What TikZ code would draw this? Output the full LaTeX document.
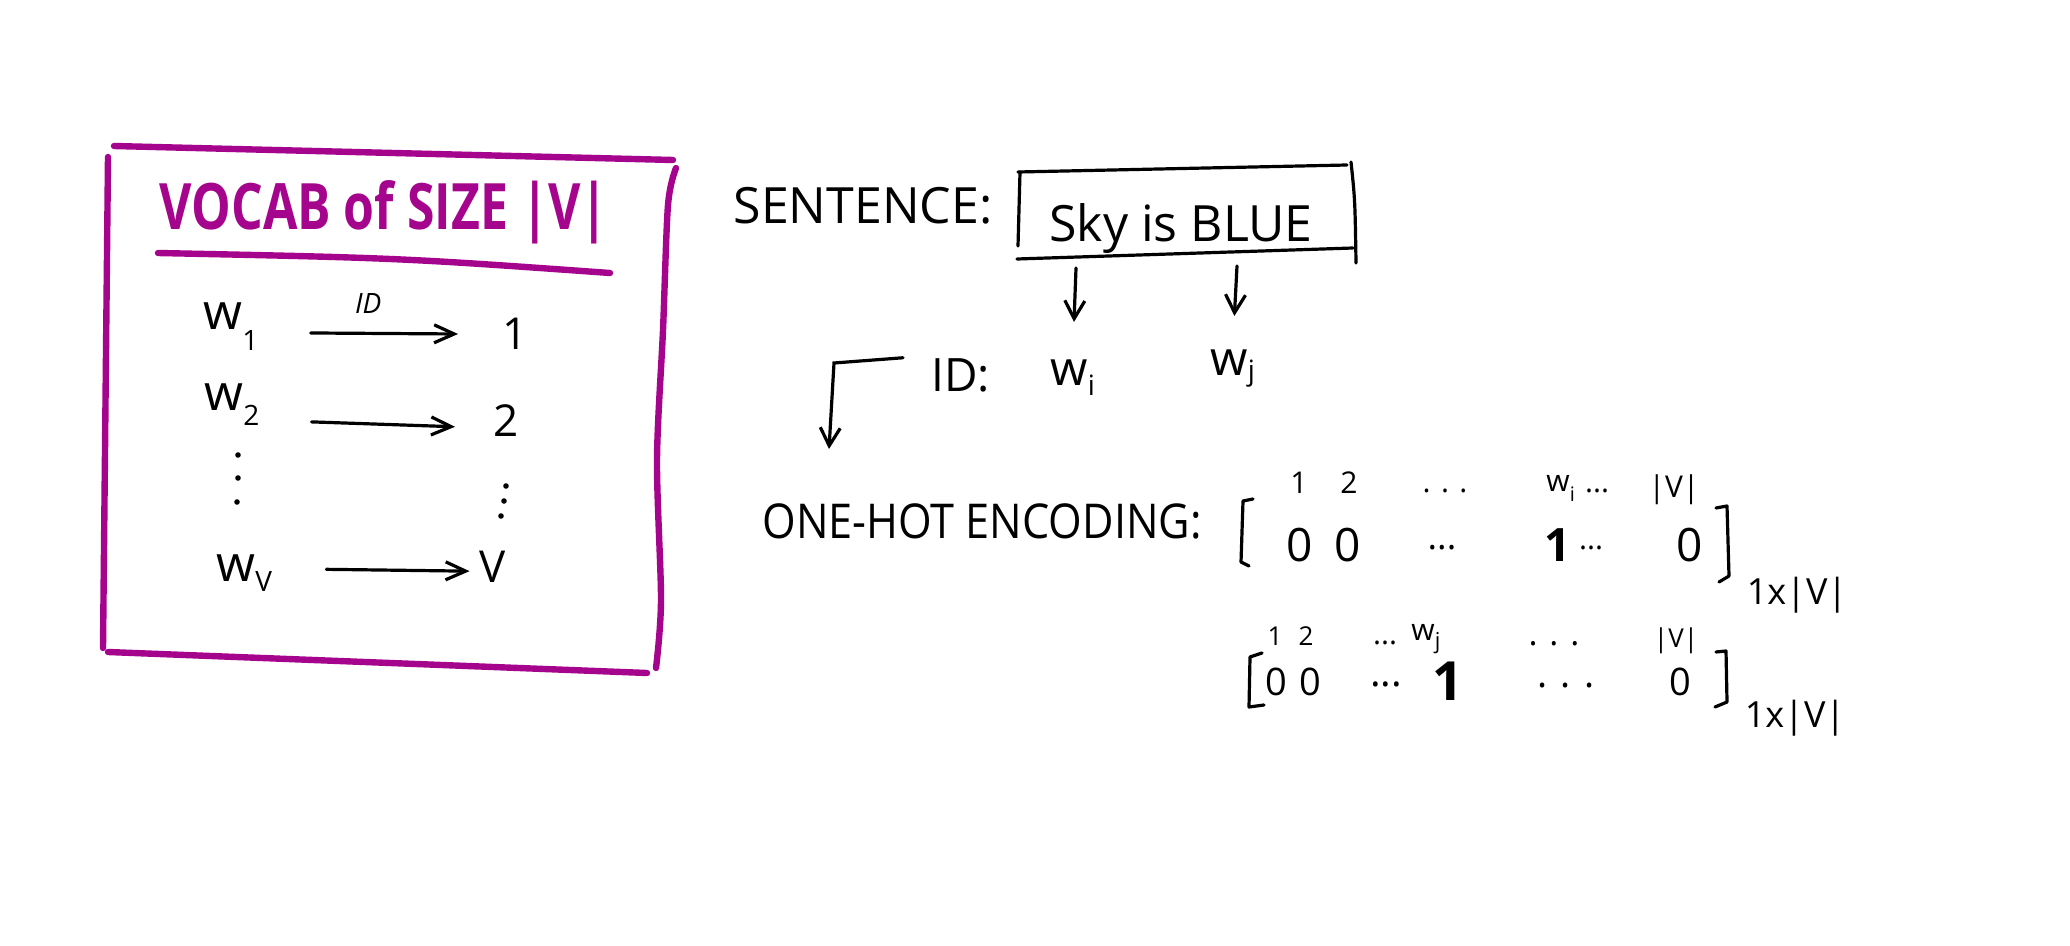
\documentclass[tikz,border=0pt]{standalone}
\usepackage{fontspec}
\setmainfont{Open Sans}
\usetikzlibrary{arrows.meta,calc}
\definecolor{vpurple}{RGB}{165,5,140}
\newcommand{\mysub}[2][10pt]{\raisebox{-#1}{\fontsize{14}{14}\selectfont #2}}
\newcommand{\fs}[1]{\fontsize{#1}{#1}\selectfont}
\begin{document}
\begin{tikzpicture}[x=0.5pt,y=-0.5pt,
  txt/.style={inner sep=0pt, text=black},
  arr/.style={line width=1.6pt, line cap=round, -{Straight Barb[length=10pt,width=9pt]}},
  darr/.style={line width=1.6pt, line cap=round, -{Straight Barb[length=9pt,width=10pt]}},
  ink/.style={draw=black, line width=1.6pt, line cap=round, line join=round},
  pbox/.style={draw=vpurple, line width=3.2pt, line cap=round, line join=round},
]
\fill[white] (0,0) rectangle (2070,946);
\useasboundingbox (0,0) rectangle (2070,946);

% ---------- vocabulary box ----------
\draw[pbox] (114,146) -- (673,160);
\draw[pbox] (108,157) -- (103,648);
\draw[pbox] (108,652) -- (647,673);
\draw[pbox] plot[smooth] coordinates {(676,168) (668,205) (663,330) (657,460) (661,600) (656,668)};

\node[txt, text=vpurple, font=\fs{32}\bfseries] (title) at (384,212) {\scalebox{0.78}[1]{VOCAB of SIZE |V|}};
\draw[pbox] (158,253) .. controls (400,258) .. (610,273);

\node[txt, anchor=base west, font=\fs{25}] (w1) at (203,330) {w\mysub[10pt]{1}};
\node[txt, anchor=base west, font=\fs{25}] (w2) at (204,410) {w\mysub[7.5pt]{2}};
\node[txt, anchor=base west, font=\fs{25}] (wV) at (216,581) {w\mysub[5pt]{V}};
\node[txt, anchor=base, font=\fs{22}] (n1) at (515,350) {1};
\node[txt, anchor=base, font=\fs{22}] (n2) at (506,436) {2};
\node[txt, anchor=base, font=\fs{22}] (nV) at (493,582) {V};

\draw[arr, shorten <=26pt, shorten >=22pt] ([yshift=-3pt]w1.east) -- node[txt, above=9pt, pos=0.45, font=\fs{14}\itshape] (idlab) {ID} (n1.west);
\draw[arr, shorten <=26pt, shorten >=19pt] ([yshift=-8pt]w2.east) -- ([yshift=-4pt]n2.west);
\draw[arr, shorten <=27pt, shorten >=5pt] ([yshift=2pt]wV.east) -- ([yshift=-2.5pt]nV.west);

\foreach \p in {(238,455),(238,478),(237,502),(506,486),(504,501),(501,516)}
  \fill \p circle (1.4pt);

% ---------- sentence ----------
\node[txt, font=\fs{25}] (sent) at (863,206) {SENTENCE:};
\node[txt, anchor=base, font=\fs{25}] (sky) at (1181,242) {Sky is BLUE};
\draw[ink] (1020,172) -- (1018,246);
\draw[ink] (1018,172) -- (1347,165);
\draw[ink] (1351,162) .. controls (1355,200) .. (1356,263);
\draw[ink] (1017,259) -- (1353,248);

\coordinate (bi) at (1076,268);
\coordinate (bj) at (1237,266);
\node[txt, anchor=base west, font=\fs{23}] (idl) at (931,391) {ID:};
\node[txt, anchor=base west, font=\fs{24}] (wi) at (1050,386) {w\mysub[5pt]{i}};
\node[txt, anchor=base west, font=\fs{24}] (wj) at (1210,376) {w\mysub[2pt]{j}};
\draw[darr, shorten >=19pt] (bi) -- (wi.north);
\draw[darr, shorten >=17pt] (bj) -- (wj.north);

\node[txt, font=\fs{24}] (oh) at (982,521) {\scalebox{0.9}[1]{ONE-HOT ENCODING:}};
\coordinate (b1) at (834,363);
\coordinate (b2) at (829,449);
\draw[darr] ([xshift=-14pt]idl.north west) -- (b1) -- (b2);

% ---------- one-hot vector 1 ----------
\draw[ink] (1253,499) -- (1243,501) -- (1241,562) -- (1249,566);
\draw[ink] (1716,508) -- (1727,506) -- (1729,576) -- (1719,582);
\node[txt, anchor=base, font=\fs{15}] (ha1) at (1299,493) {1};
\node[txt, anchor=base, font=\fs{15}] (ha2) at (1349,493) {2};
\node[txt, font=\fs{15}] (ha3) at (1445,491) {. . .};
\node[txt, anchor=base west, font=\fs{15}] (ha4) at (1546,491) {w{\raisebox{-5pt}{\fs{10}i}}};
\node[txt, font=\fs{15}] (ha5) at (1597,491) {...};
\node[txt, anchor=base, font=\fs{15}] (ha6) at (1674,497) {|V|};
\node[txt, anchor=base, font=\fs{23}] (va1) at (1300,561) {0};
\node[txt, anchor=base, font=\fs{23}] (va2) at (1348,561) {0};
\node[txt, font=\fs{18}] (va3) at (1442,548) {...};
\node[txt, anchor=base, font=\fs{23}\bfseries] (va4) at (1558,561) {1};
\node[txt, font=\fs{15}] (va5) at (1591,548) {...};
\node[txt, anchor=base, font=\fs{23}] (va6) at (1690,561) {0};
\node[txt, font=\fs{18}] (da) at (1797,595) {1x|V|};

% ---------- one-hot vector 2 ----------
\draw[ink] (1262,653) -- (1250,657) -- (1249,707) -- (1264,705);
\draw[ink] (1716,652) -- (1726,651) -- (1727,702) -- (1715,707);
\node[txt, anchor=base, font=\fs{13}] (hb1) at (1275,645) {1};
\node[txt, anchor=base, font=\fs{13}] (hb2) at (1306,645) {2};
\node[txt, font=\fs{15}] (hb3) at (1385,643) {...};
\node[txt, anchor=base west, font=\fs{15}] (hb4) at (1411,640) {w{\raisebox{-4pt}{\fs{11}j}}};
\node[txt, font=\fs{17}] (hb5) at (1554,644) {. . .};
\node[txt, anchor=base, font=\fs{13}] (hb6) at (1676,647) {|V|};
\node[txt, anchor=base, font=\fs{19}] (vb1) at (1276,695) {0};
\node[txt, anchor=base, font=\fs{19}] (vb2) at (1310,695) {0};
\node[txt, font=\fs{20}] (vb3) at (1386,684) {...};
\node[txt, anchor=base, font=\fs{27}\bfseries] (vb4) at (1448,700) {1};
\node[txt, font=\fs{19}] (vb5) at (1566,686) {. . .};
\node[txt, anchor=base, font=\fs{19}] (vb6) at (1680,695) {0};
\node[txt, font=\fs{18}] (db) at (1795,718) {1x|V|};
\end{tikzpicture}
\end{document}
